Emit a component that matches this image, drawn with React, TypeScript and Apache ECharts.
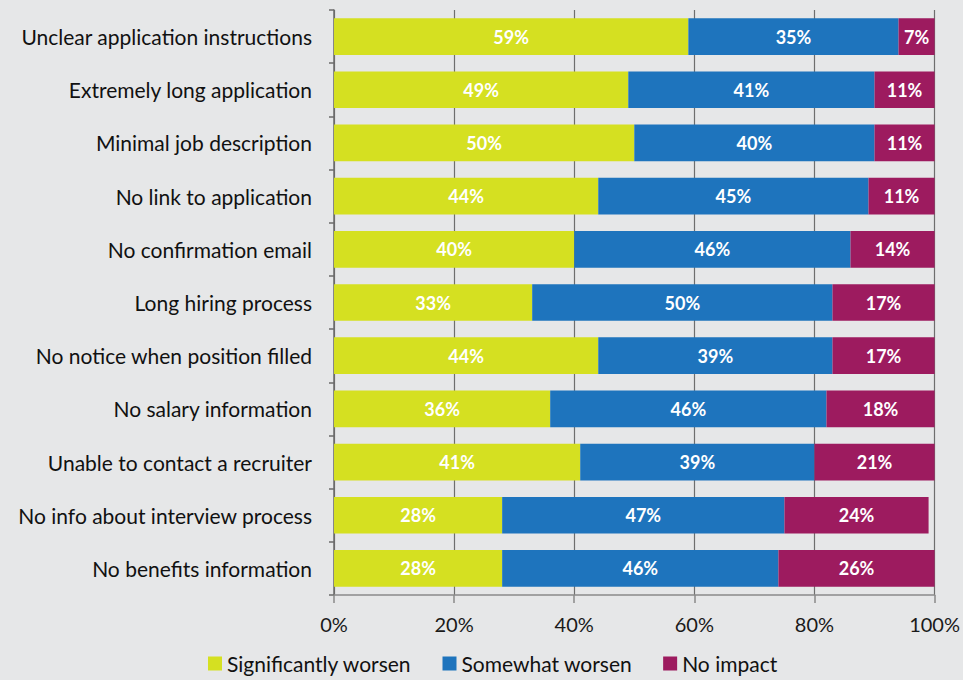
import React, { useEffect, useRef } from "react";
import * as echarts from "echarts";

const categories = [
  "Unclear application instructions",
  "Extremely long application",
  "Minimal job description",
  "No link to application",
  "No confirmation email",
  "Long hiring process",
  "No notice when position filled",
  "No salary information",
  "Unable to contact a recruiter",
  "No info about interview process",
  "No benefits information",
];
const significantlyWorsen = [59, 49, 50, 44, 40, 33, 44, 36, 41, 28, 28];
const somewhatWorsen = [35, 41, 40, 45, 46, 50, 39, 46, 39, 47, 46];
const noImpact = [7, 11, 11, 11, 14, 17, 17, 18, 21, 24, 26];
const xTicks = [0, 20, 40, 60, 80, 100];

const FONT = "Lato, 'Open Sans', sans-serif";

export default function App() {
  const ref = useRef<HTMLDivElement>(null);
  useEffect(() => {
    document.body.style.margin = "0";
    document.body.style.overflow = "hidden";
    if (!ref.current) return;
    const chart = echarts.init(ref.current, null, { renderer: "svg" });
    const label = {
      show: true,
      position: "inside",
      color: "#ffffff",
      fontFamily: FONT,
      fontWeight: "bold",
      fontSize: 18,
      formatter: (p: any) => p.value + "%",
    };
    const mk = (name: string, data: number[], color: string) => ({
      name,
      type: "bar",
      stack: "total",
      data,
      barWidth: "69%",
      itemStyle: { color },
      label,
      emphasis: { disabled: true },
    });
    chart.setOption({
      animation: false,
      backgroundColor: "#e6e7e8",
      textStyle: { fontFamily: FONT },
      grid: { left: 334, right: 27, top: 10, bottom: 85, containLabel: false },
      xAxis: {
        type: "value",
        min: xTicks[0],
        max: xTicks[xTicks.length - 1],
        interval: 20,
        axisLine: { show: true, lineStyle: { color: "#8a8a8a", width: 1.5 } },
        axisTick: { show: true, length: 8, lineStyle: { color: "#8a8a8a", width: 1.5 } },
        splitLine: { show: true, lineStyle: { color: "#6e6e6e", width: 1.2 } },
        axisLabel: {
          color: "#1a1a1a",
          fontSize: 20,
          fontFamily: FONT,
          margin: 19,
          formatter: (v: number) => v + "%",
        },
      },
      yAxis: {
        type: "category",
        inverse: true,
        data: categories,
        axisLine: { show: true, lineStyle: { color: "#6b6b6b", width: 1.5 } },
        axisTick: { show: true, length: 5, lineStyle: { color: "#6b6b6b", width: 1.5 } },
        axisLabel: { color: "#111111", fontSize: 21, fontFamily: FONT, margin: 22 },
      },
      legend: {
        top: 653,
        left: 208,
        itemWidth: 14,
        itemHeight: 14,
        itemGap: 31,
        icon: "rect",
        padding: 0,
        textStyle: { color: "#111111", fontSize: 21, fontFamily: FONT },
        data: ["Significantly worsen", "Somewhat worsen", "No impact"],
      },
      series: [
        mk("Significantly worsen", significantlyWorsen, "#d5e021"),
        mk("Somewhat worsen", somewhatWorsen, "#1e74bd"),
        mk("No impact", noImpact, "#9d1b5f"),
      ],
    });
    return () => chart.dispose();
  }, []);
  return <div ref={ref} style={{ width: 963, height: 680 }} />;
}
